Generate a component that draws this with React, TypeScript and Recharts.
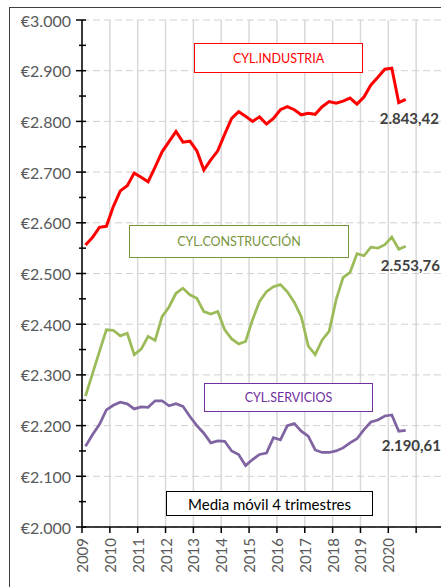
import { LineChart, Line, XAxis, YAxis, CartesianGrid } from 'recharts';

// quarterly moving average (4 quarters), Castilla y León
const QUARTERS = [
  '2009T1', '2009T2', '2009T3', '2009T4',
  '2010T1', '2010T2', '2010T3', '2010T4',
  '2011T1', '2011T2', '2011T3', '2011T4',
  '2012T1', '2012T2', '2012T3', '2012T4',
  '2013T1', '2013T2', '2013T3', '2013T4',
  '2014T1', '2014T2', '2014T3', '2014T4',
  '2015T1', '2015T2', '2015T3', '2015T4',
  '2016T1', '2016T2', '2016T3', '2016T4',
  '2017T1', '2017T2', '2017T3', '2017T4',
  '2018T1', '2018T2', '2018T3', '2018T4',
  '2019T1', '2019T2', '2019T3', '2019T4',
  '2020T1', '2020T2', '2020T3',
];

const INDUSTRIA = [
  2556, 2571, 2591, 2593, 2632, 2663, 2673, 2698, 2690, 2681, 2710, 2740,
  2760, 2780, 2759, 2761, 2742, 2704, 2724, 2742, 2775, 2806, 2819, 2810,
  2800, 2809, 2795, 2806, 2823, 2829, 2823, 2813, 2816, 2814, 2829, 2839,
  2836, 2840, 2846, 2834, 2848, 2872, 2887, 2903, 2905, 2837, 2843.42,
];

const CONSTRUCCION = [
  2258, 2302, 2346, 2389, 2388, 2377, 2382, 2340, 2351, 2376, 2368, 2415,
  2434, 2461, 2471, 2458, 2451, 2425, 2420, 2425, 2389, 2371, 2361, 2366,
  2409, 2445, 2464, 2474, 2478, 2464, 2443, 2415, 2357, 2340, 2369, 2386,
  2448, 2492, 2502, 2539, 2535, 2552, 2550, 2557, 2572, 2548, 2553.76,
];

const SERVICIOS = [
  2159, 2182, 2202, 2231, 2240, 2246, 2243, 2233, 2237, 2236, 2249, 2249,
  2239, 2243, 2238, 2218, 2200, 2185, 2166, 2170, 2169, 2150, 2143, 2121,
  2133, 2143, 2146, 2176, 2172, 2200, 2204, 2189, 2179, 2152, 2147, 2147,
  2150, 2156, 2166, 2174, 2192, 2207, 2211, 2219, 2221, 2189, 2190.61,
];

const YEAR_TICKS = [2009, 2010, 2011, 2012, 2013, 2014, 2015, 2016, 2017, 2018, 2019, 2020, 2021, 2022];
const LAST_YEAR_LABEL = 2020;
const Y_MAJOR = [2000, 2100, 2200, 2300, 2400, 2500, 2600, 2700, 2800, 2900, 3000];
const Y_MINOR = [2050, 2150, 2250, 2350, 2450, 2550, 2650, 2750, 2850, 2950];

const data = QUARTERS.map((q, i) => ({
  t: Number(q.slice(0, 4)) + (Number(q.slice(5)) - 0.5) / 4,
  industria: INDUSTRIA[i],
  construccion: CONSTRUCCION[i],
  servicios: SERVICIOS[i],
}));

const FONT = 'Lato, "Open Sans", sans-serif';

const euro = (v: number) => `€${Math.floor(v / 1000)}.${String(v % 1000).padStart(3, '0')}`;

const spanish = (v: number) => {
  const [int, dec] = v.toFixed(2).split('.');
  return `${int.slice(0, -3)}.${int.slice(-3)},${dec}`;
};

function EuroTick({ x, y, payload }: any) {
  const major = payload.value % 100 === 0;
  return (
    <g>
      <line x1={x - (major ? 6 : 3)} x2={x + 4} y1={y} y2={y} stroke="#000" strokeWidth={1.5} />
      {major && (
        <text x={x - 11} y={y} textAnchor="end" dominantBaseline="central" fill="#595959" fontSize={16} fontFamily={FONT}>
          {euro(payload.value)}
        </text>
      )}
    </g>
  );
}

function YearTick({ x, y, payload }: any) {
  if (payload.value > LAST_YEAR_LABEL) return <g />;
  return (
    <text
      x={x}
      y={y}
      transform={`rotate(-90 ${x} ${y})`}
      textAnchor="end"
      dominantBaseline="central"
      fill="#595959"
      fontSize={15}
      fontFamily={FONT}
    >
      {payload.value}
    </text>
  );
}

const endLabel = (last: number, dx: number, dy: number) => (p: any) => {
  if (p.index !== last) return null;
  return (
    <text x={p.x + dx} y={p.y + dy} dominantBaseline="central" fill="#404040" fontWeight="bold" fontSize={15} fontFamily={FONT}>
      {spanish(p.value)}
    </text>
  );
};

const boxBase: React.CSSProperties = {
  position: 'absolute',
  boxSizing: 'border-box',
  background: '#fff',
  display: 'flex',
  alignItems: 'center',
  justifyContent: 'center',
  fontFamily: FONT,
  fontSize: 12.5,
};

export default function App() {
  const last = QUARTERS.length - 1;
  return (
    <div
      style={{
        position: 'absolute',
        left: 9,
        top: 7,
        width: 431,
        height: 580,
        borderTop: '1px solid #404040',
        borderLeft: '1px solid #404040',
        background: '#fff',
        overflow: 'hidden',
      }}
    >
      <LineChart width={440} height={579} data={data} margin={{ top: 12, right: 6, bottom: 0, left: 0 }}>
        <CartesianGrid horizontal={false} stroke="#d9d9d9" strokeWidth={1.5} />
        <CartesianGrid vertical={false} horizontalValues={Y_MAJOR} stroke="#d0d0d0" strokeDasharray="7 4" />
        <XAxis
          type="number"
          dataKey="t"
          domain={[2009, 2022]}
          ticks={YEAR_TICKS}
          interval={0}
          height={60}
          tickSize={6}
          tickMargin={5}
          axisLine={{ stroke: '#000', strokeWidth: 1.5 }}
          tickLine={{ stroke: '#000', strokeWidth: 1.5 }}
          tick={<YearTick />}
        />
        <YAxis
          type="number"
          domain={[2000, 3000]}
          ticks={[...Y_MAJOR, ...Y_MINOR].sort((a, b) => a - b)}
          interval={0}
          width={72}
          tickSize={0}
          tickMargin={0}
          tickLine={false}
          axisLine={{ stroke: '#000', strokeWidth: 1.5 }}
          tick={<EuroTick />}
        />
        <Line
          dataKey="industria"
          stroke="#ff0000"
          strokeWidth={3}
          dot={false}
          isAnimationActive={false}
          label={endLabel(last, -26, 19)}
        />
        <Line
          dataKey="construccion"
          stroke="#9bbb59"
          strokeWidth={2.75}
          dot={false}
          isAnimationActive={false}
          label={endLabel(last, -25, 19)}
        />
        <Line
          dataKey="servicios"
          stroke="#8064a2"
          strokeWidth={2.75}
          dot={false}
          isAnimationActive={false}
          label={endLabel(last, -24, 15)}
        />
      </LineChart>

      <div style={{ ...boxBase, left: 184, top: 35, width: 169, height: 30, border: '1.5px solid #ff0000', color: '#ff0000' }}>
        CYL.INDUSTRIA
      </div>
      <div style={{ ...boxBase, left: 119, top: 217, width: 220, height: 33, border: '1.5px solid #77933c', color: '#77933c' }}>
        CYL.CONSTRUCCIÓN
      </div>
      <div style={{ ...boxBase, left: 194, top: 375, width: 169, height: 29, border: '1.5px solid #7030a0', color: '#7030a0' }}>
        CYL.SERVICIOS
      </div>
      <div style={{ ...boxBase, left: 156, top: 483, width: 207, height: 25, border: '1px solid #000', color: '#000', fontSize: 15 }}>
        Media móvil 4 trimestres
      </div>
    </div>
  );
}
